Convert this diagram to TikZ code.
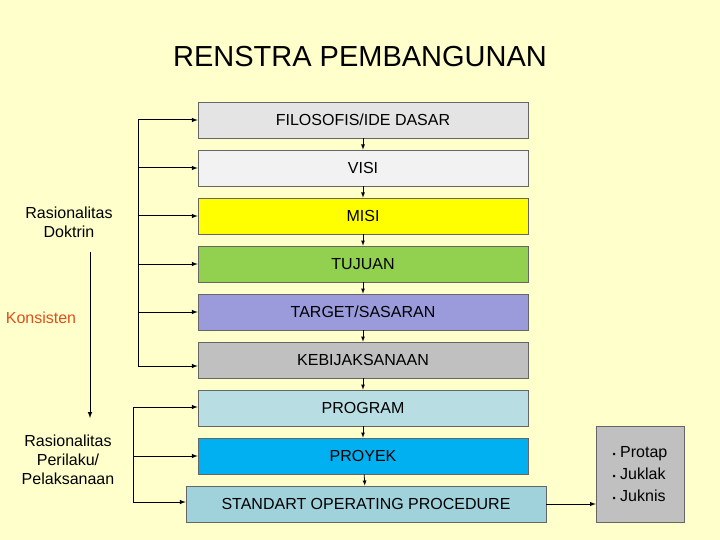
\documentclass[tikz,border=0pt]{standalone}
\usepackage{fontspec}
\setmainfont{Liberation Sans}
\begin{document}
\begin{tikzpicture}[x=1pt,y=-1pt,
 bx/.style={draw=black!60,line width=0.6pt,minimum width=330pt,minimum height=36pt,font=\fontsize{16}{18}\selectfont,inner sep=0pt},
 ar/.style={-latex,line width=1pt},
 lb/.style={font=\fontsize{16}{19}\selectfont,align=center}]
\fill[fill={rgb,255:red,255;green,255;blue,204}] (0,0) rectangle (720,540);
\useasboundingbox (0,0) rectangle (720,540);
\node[font=\fontsize{29}{32}\selectfont] (t) at (360,57) {RENSTRA PEMBANGUNAN};
\definecolor{c1}{RGB}{228,228,228}\definecolor{c2}{RGB}{242,242,242}
\definecolor{c3}{RGB}{255,255,0}\definecolor{c4}{RGB}{146,208,80}
\definecolor{c5}{RGB}{155,155,220}\definecolor{c6}{RGB}{192,192,192}
\definecolor{c7}{RGB}{184,222,228}\definecolor{c8}{RGB}{0,176,240}
\definecolor{c9}{RGB}{160,210,220}
\node[bx,fill=c1] (b1) at (363,120) {FILOSOFIS/IDE DASAR};
\node[bx,fill=c2] (b2) at (363,168) {VISI};
\node[bx,fill=c3] (b3) at (363,216) {MISI};
\node[bx,fill=c4] (b4) at (363,264) {TUJUAN};
\node[bx,fill=c5] (b5) at (363,312) {TARGET/SASARAN};
\node[bx,fill=c6] (b6) at (363,360) {KEBIJAKSANAAN};
\node[bx,fill=c7] (b7) at (363,408) {PROGRAM};
\node[bx,fill=c8] (b8) at (363,456) {PROYEK};
\node[bx,fill=c9,minimum width=360pt] (b9) at (366,504) {STANDART OPERATING PROCEDURE};
\foreach \a/\b in {b1/b2,b2/b3,b3/b4,b4/b5,b5/b6,b6/b7,b7/b8,b8/b9}
  \draw[-latex,line width=0.8pt] (\a) -- (\b);
\coordinate (u1) at (138,120); \coordinate (u6) at (138,366);
\draw[line width=1pt] (u1) -- (u6);
\foreach \b in {b1,b2,b3,b4,b5} \draw[ar] (138,0 |- \b.west) -- (\b.west);
\draw[ar] (u6) -- (b6.west |- u6);
\coordinate (l1) at (133,407); \coordinate (l3) at (133,502);
\draw[line width=1pt] (l1) -- (l3);
\draw[ar] (l1) -- (b7.west |- l1);
\draw[ar] (133,0 |- b8.west) -- (b8.west);
\draw[ar] (l3) -- (b9.west |- l3);
\node[lb] (rd) at (69,222) {Rasionalitas\\Doktrin};
\node[lb,text={rgb,255:red,220;green,80;blue,30}] (ko) at (41,318) {Konsisten};
\node[lb] (rp) at (68,460) {Rasionalitas\\Perilaku/\\Pelaksanaan};
\coordinate (k1) at (90,252); \coordinate (k2) at (90,418);
\draw[ar] (k1) -- (k2);
\node[draw=black!60,fill={rgb,255:red,192;green,192;blue,192},minimum width=88pt,minimum height=96pt,
 font=\fontsize{16}{22}\selectfont,align=left,inner sep=2pt] (r) at (640,474)
 {{\small•} Protap\\{\small•} Juklak\\{\small•} Juknis};
\draw[ar] (b9.east) -- (r.west |- b9.east);
\end{tikzpicture}
\end{document}
